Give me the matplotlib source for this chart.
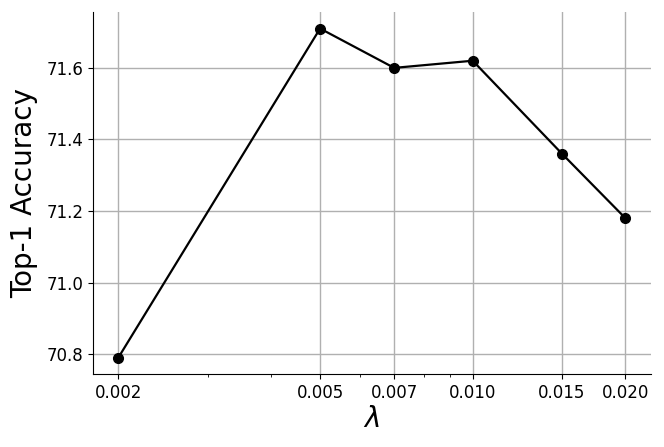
import matplotlib
matplotlib.use("Agg")
import matplotlib.pyplot as plt
from matplotlib.ticker import FixedLocator, FixedFormatter, NullFormatter, LogLocator

lambdas = [0.002, 0.005, 0.007, 0.010, 0.015, 0.020]
acc = [70.79, 71.71, 71.60, 71.62, 71.36, 71.18]
xtick_labels = ["0.002", "0.005", "0.007", "0.010", "0.015", "0.020"]

fig = plt.figure(figsize=(6.64, 4.47), dpi=100)
ax = fig.add_axes([0.140, 0.163, 0.840, 0.810])
ax.plot(lambdas, acc, color="black", marker="o", markersize=7, linewidth=1.6, zorder=3)
ax.set_xscale("log")
ax.xaxis.set_major_locator(FixedLocator(lambdas))
ax.xaxis.set_major_formatter(FixedFormatter(xtick_labels))
ax.xaxis.set_minor_locator(LogLocator(base=10, subs=range(1, 10)))
ax.xaxis.set_minor_formatter(NullFormatter())
ax.set_yticks([70.8, 71.0, 71.2, 71.4, 71.6])
ax.tick_params(labelsize=12)
ax.grid(True, which="major", color="#b0b0b0", linewidth=1)
ax.set_axisbelow(True)
ax.spines["top"].set_visible(False)
ax.spines["right"].set_visible(False)
ax.set_xlabel(r"$\lambda$", fontsize=20, labelpad=2)
ax.set_ylabel("Top-1 Accuracy", fontsize=20, labelpad=6)
fig.savefig("out.png", dpi=100)
